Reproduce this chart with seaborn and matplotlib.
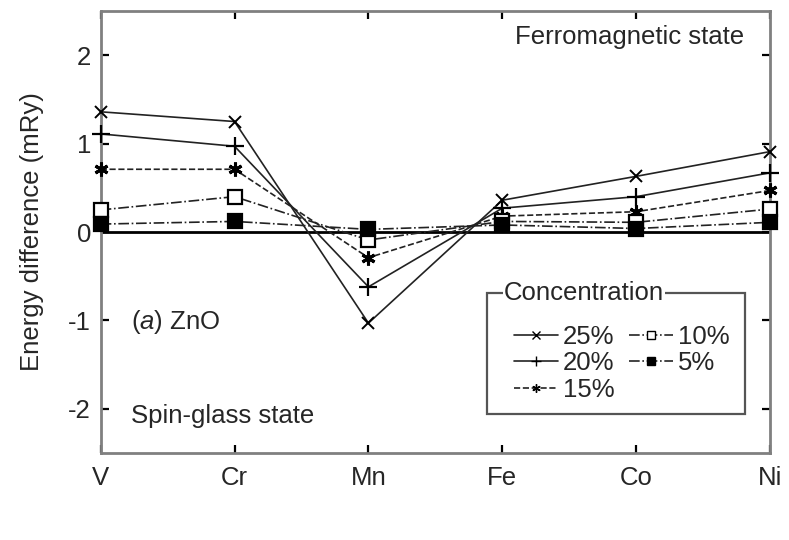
import numpy as np
import pandas as pd
import matplotlib
matplotlib.use("Agg")
import matplotlib.pyplot as plt
from matplotlib.lines import Line2D
from matplotlib.patches import Rectangle
import seaborn as sns

# data
elements = ["V", "Cr", "Mn", "Fe", "Co", "Ni"]
labels = ["25%", "20%", "15%", "10%", "5%"]
c25 = [1.36, 1.25, -1.03, 0.36, 0.63, 0.91]
c20 = [1.11, 0.97, -0.62, 0.27, 0.40, 0.67]
c15 = [0.71, 0.71, -0.29, 0.18, 0.23, 0.47]
c10 = [0.25, 0.40, -0.09, 0.12, 0.11, 0.26]
c5 = [0.09, 0.12, 0.03, 0.08, 0.04, 0.11]

sns.set_style("ticks")
plt.rcParams["font.family"] = ["Liberation Sans", "DejaVu Sans"]
plt.rcParams["mathtext.fontset"] = "custom"
plt.rcParams["mathtext.it"] = "Liberation Sans:italic"
plt.rcParams["mathtext.rm"] = "Liberation Sans"

df = pd.DataFrame({"pos": np.arange(len(elements))})
series = [c25, c20, c15, c10, c5]
styles = [
    dict(marker="x", ls="-", ms=9, mfc="k", mew=1.4),
    dict(marker="+", ls="-", ms=13, mfc="k", mew=1.6),
    dict(marker=(6, 2, 0), ls="--", ms=10, mfc="k", mew=2.2),
    dict(marker="s", ls="-.", ms=10, mfc="white", mew=1.6),
    dict(marker="s", ls="-.", ms=10, mfc="black", mew=1.6),
]

fig = plt.figure(figsize=(7.89, 5.4), dpi=100)
ax = fig.add_axes([0.1276, 0.161, 0.8484, 0.8186])

ax.axhline(0, color="black", lw=2.0, zorder=1)

handles = []
for vals, lab, st in zip(series, labels, styles):
    df["y"] = vals
    sns.lineplot(data=df, x="pos", y="y", ax=ax, color="#222222", lw=1.2,
                 linestyle=st["ls"], marker=st["marker"], markersize=st["ms"],
                 markerfacecolor=st["mfc"], markeredgecolor="black",
                 markeredgewidth=st["mew"], zorder=3, clip_on=False)
    handles.append(Line2D([], [], color="#222222", lw=1.2, linestyle=st["ls"],
                          marker=st["marker"], markersize=st["ms"] * 0.6,
                          markerfacecolor=st["mfc"], markeredgecolor="black",
                          markeredgewidth=1.0, label=lab))

ax.set_xlim(0, len(elements) - 1)
ax.set_ylim(-2.5, 2.5)
ax.set_xticks(np.arange(len(elements)))
ax.set_xticklabels(elements)
ax.set_yticks([-2, -1, 0, 1, 2])
ax.set_yticklabels(["-2", "-1", "0", "1", "2"])
ax.set_xlabel("")
ax.set_ylabel("Energy difference (mRy)", fontsize=18.5)
ax.yaxis.set_label_coords(-0.085, 0.5)

for sp in ax.spines.values():
    sp.set_color("#808080")
    sp.set_linewidth(2.0)
ax.tick_params(direction="in", length=6, width=1.6, color="black",
               top=True, right=True, labelsize=18.5)
ax.tick_params(axis="x", pad=9)
ax.tick_params(axis="y", pad=7)

ax.text(0.619, 0.941, "Ferromagnetic state", transform=ax.transAxes,
        fontsize=18.5, va="center", ha="left")
ax.text(0.045, 0.296, r"($\mathit{a}$) ZnO", transform=ax.transAxes,
        fontsize=18.5, va="center", ha="left")
ax.text(0.045, 0.084, "Spin-glass state", transform=ax.transAxes,
        fontsize=18.5, va="center", ha="left")

# legend drawn matlab style, title sitting on the frame
ax.add_patch(Rectangle((0.577, 0.088), 0.386, 0.274, transform=ax.transAxes,
                       fill=True, facecolor="white", edgecolor="#555555",
                       lw=1.6, zorder=4))
ax.text(0.602, 0.362, "Concentration", transform=ax.transAxes, fontsize=18.5,
        va="center", ha="left", zorder=6,
        bbox=dict(facecolor="white", edgecolor="none", pad=0.5))
leg = ax.legend(handles=handles, ncol=2, loc="upper left",
                bbox_to_anchor=(0.618, 0.29), frameon=False, fontsize=18.5,
                handlelength=1.7, handletextpad=0.2, columnspacing=0.55,
                labelspacing=0.1, borderpad=0, borderaxespad=0)
leg.set_zorder(7)

fig.savefig("out.png", dpi=100)
